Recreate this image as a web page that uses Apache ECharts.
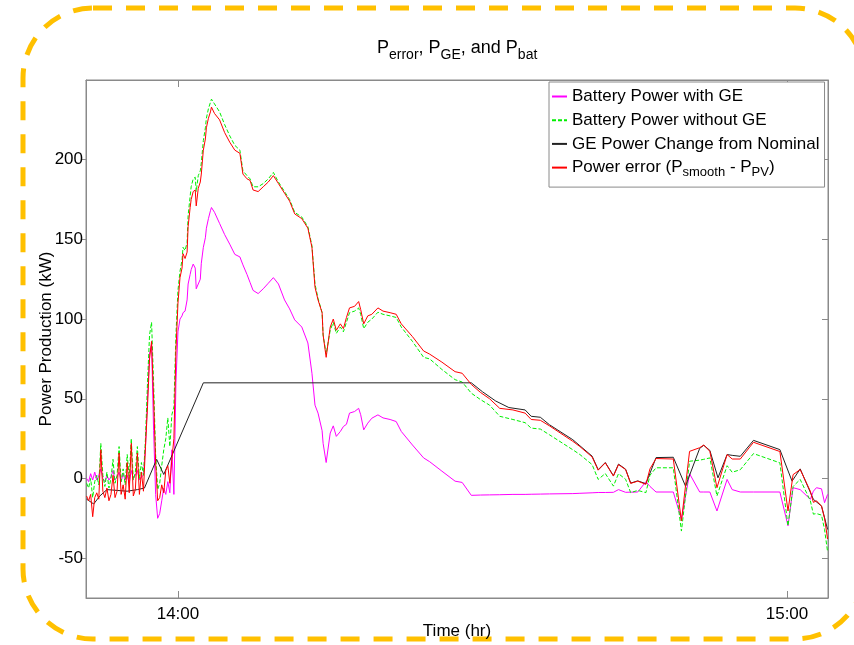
<!DOCTYPE html>
<html><head><meta charset="utf-8">
<script src="https://cdn.jsdelivr.net/npm/echarts@6/dist/echarts.min.js"></script>
<style>html,body{margin:0;padding:0;background:#fff}#c{width:854px;height:645px}</style>
</head><body><div id="c"></div>
<script>
// time in minutes after 13:00
const timeEarly = [51.0,51.2,51.4,51.6,51.8,52.0,52.2,52.4,52.6,52.8,
  53.0,53.2,53.4,53.6,53.8,54.0,54.2,54.4,54.6,54.8,
  55.0,55.2,55.4,55.6,55.8,56.0,56.2,56.4,56.6,56.8,
  57.0,57.2,57.4,57.6,57.8,58.0,58.2,58.4,58.6,58.8,
  59.0,59.2,59.4,59.6,59.8,60.0];
const timeLate = [60.2,60.4,60.5,60.7,60.9,61.0,61.2,61.3,61.5,61.7,
  61.8,62.0,62.2,62.3,62.5,62.7,62.8,63.0,63.2,63.3,
  63.6,64.1,64.6,65.1,65.6,66.1,66.4,66.8,67.1,67.4,
  67.9,68.4,68.9,69.4,69.9,70.5,71.0,71.5,72.2,72.8,
  73.2,73.5,73.8,74.2,74.3,74.6,75.0,75.3,75.6,76.0,
  76.3,76.6,76.9,77.4,77.8,78.0,78.3,78.7,79.1,79.7,
  80.2,80.9,81.5,82.0,83.1,84.2,84.8,86.0,87.3,88.0,
  88.9,89.8,90.7,91.7,93.0,94.2,94.8,95.7,96.6,98.9,
  99.6,100.8,101.4,102.1,102.9,103.4,104.1,104.6,105.3,106.1,
  106.5,107.1,108.8,109.6,110.4,111.4,111.8,112.4,113.1,114.1,
  114.6,115.4,116.7,119.3,120.1,120.6,121.3,122.3,122.6,122.9,
  123.4,123.7,124.0];

// Battery Power with GE (magenta)
const magentaEarly = [0,-2,3,-1,4,-1,2,6,0,-2,
  2,-1,1,5,-1,1,4,-2,3,-1,
  2,-3,5,0,2,5,-1,1,2,20,
  50,78,84,30,-10,-25,-22,-14,-6,-10,
  -2,-9,18,-10,60,92];
const magentaLate = [100,102,104,105,112,122,128,131,134.5,132,
  119,122,125,135,145,151,157,163,168,170,
  167,160,153,147,140.6,139,134,128,123,118,
  116,119,122.5,126,122,112,106.4,99.5,95,85,
  66,46,41,30,22,10,28.5,33,26.4,29.5,
  32.6,34,41,42,44,40,30.5,34.7,37.8,39.9,
  38,37,35.7,29.5,21,12.9,10.5,4.6,-1.7,-2.5,
  -10.6,-10.4,-10.3,-10.2,-10,-10,-9.9,-9.8,-9.7,-9.5,
  -9.3,-9,-8.8,-8.8,-8.7,-7,-8.7,-8.6,-8.5,-2,
  -5,-8.5,-8.5,-25.6,3,-8.5,-8.5,-8.5,-20.4,-0.6,
  -7,-8.5,-8.5,-8.5,-29.7,-5.8,-7,-13.1,-8,-5.8,
  -6.5,-15.2,-10];

// Battery Power without GE (green dashed)
const greenEarly = [-3,-6,0,-12,-2,2,-4,22,2,-5,
  4,-6,0,12,-3,2,20,-2,6,-4,
  15,0,25,-1,4,20,0,10,2,25,
  60,90,98,60,15,-7,-3,8,18,25,
  38,20,40,45,90,118];
const greenLate = [130,137,145,143,148,165,177,183,188,189,
  180,190,193,198,212,220,226,232,236,238,
  235,230,222,215,209,206,193,190,188,183,
  183,185,188,192,186,180,175,167,164,158,
  146,122,113,104,90,78,93,98,91,95,
  92,98,104,105,107,103,94,98,100,104.3,
  103,102,101,95,86,76,75,68.4,62,60.5,
  53.5,49.5,46,39,37,35,31.6,31,27.4,18,
  15,8.7,-0.6,3.1,-4.8,3,-0.5,-8.9,-7.5,-8.9,
  2,6.7,6.7,-33,10.8,11.5,12,12.9,-11,8,
  3.9,5.5,15.6,9.8,-29.7,-5,-0.6,-14,-22.4,-22,
  -23,-32,-46];

// Power error (red)
const redEarly = [-11,-14,-10,-24,-12,-9,-13,18,-8,-12,
  -6,-14,-10,2,-12,-8,16,-10,-4,-13,
  10,-9,22,-11,-7,16,-10,4,-8,20,
  45,75,86,50,10,-14,-12,-4,-9,5,
  8,-3,12,25,80,110];
const redLate = [126,132,141,138,142,158,170,175,180,181,
  171,182,186,191,206,213,220,226,230,233,
  229,225,217,211,206,204,191,188,187,181,
  180,183,186,190,185,179,174,166,163,157,
  145,120,112,104,90,76,95,100,93,97,
  94,101,107,108,111,106,97,102,103,107,
  105,104,103,97,89,80,78,73,67,66,
  59,54,50,44,43,41,37,36.5,33,23.3,
  20,13.5,5.2,9.8,1.5,8.7,5.6,-3.1,-1.7,-3.7,
  6,12.5,12.2,-26.6,17,19.3,21,17,-5.8,15,
  12.2,12.2,22.7,16.9,-20.4,2.4,5.6,-8,-15,-14,
  -17.3,-25,-38];

// GE Power Change from Nominal (black)
const geTime = [51.0,51.7,52.3,53.0,54.0,55.0,56.0,56.7,57.9,58.6,
  62.5,88.9,90.0,91.3,92.6,94.2,94.8,95.7,96.6,98.9,
  99.6,100.8,101.4,102.1,102.9,103.4,104.1,104.6,105.3,106.1,
  107.1,108.8,110.0,111.4,111.8,112.4,113.2,114.1,114.6,115.4,
  116.7,119.3,120.5,121.3,122.6,123.4,124.0];
const geValues = [-13,-16,-11,-7,-7.5,-8,-7,-6,12,2.5,
  60,60,54.4,48.6,44.5,43,39,38.4,33.7,24.3,
  20.5,14,5.5,10,1.7,9,5.8,-2.9,-1.5,-3.3,
  13.1,13.3,-4.8,18.9,20.8,17.6,0.4,15,14.5,13.9,
  23.9,18.1,-1.7,6,-13.1,-17.3,-32];

const seriesNames = ['Battery Power with GE','Battery Power without GE','GE Power Change from Nominal','Power error'];
const xTickValues = [60, 120];
const xTickLabels = ['14:00', '15:00'];
const yTickValues = [-50, 0, 50, 100, 150, 200];

const FONT = '"Liberation Sans", Arial, Helvetica, sans-serif';
const time = timeEarly.concat(timeLate);
function pairs(t, v) { return t.map((x, i) => [x, v[i]]); }

const chart = echarts.init(document.getElementById('c'), null, {renderer: 'canvas'});
const axisGray = '#8a8a8a';
const xBase = {type: 'value', min: 50.94, max: 124.04, splitLine: {show: false},
  axisLine: {show: true, onZero: false, lineStyle: {color: axisGray}}};
const yBase = {type: 'value', min: -75, max: 250, splitLine: {show: false},
  axisLine: {show: true, onZero: false, lineStyle: {color: axisGray}}};

chart.setOption({
  animation: false,
  backgroundColor: '#fff',
  textStyle: {fontFamily: FONT},
  title: {
    text: '{n|P}{s|error}{n|, P}{s|GE}{n|, and P}{s|bat}',
    left: 377, top: 36, padding: 0,
    textStyle: {fontWeight: 'normal', rich: {
      n: {fontSize: 18, fontFamily: FONT, color: '#000', fontWeight: 'normal'},
      s: {fontSize: 14, fontFamily: FONT, color: '#000', fontWeight: 'normal', padding: [12, 0, -2, 0]}
    }}
  },
  grid: {left: 86, right: 26, top: 80, bottom: 47, show: true, borderColor: axisGray, borderWidth: 1,
    backgroundColor: '#fff', containLabel: false, outerBoundsMode: 'none'},
  xAxis: [
    Object.assign({}, xBase, {position: 'bottom',
      axisTick: {show: true, inside: true, length: 7, customValues: xTickValues, lineStyle: {color: axisGray}},
      axisLabel: {show: true, customValues: xTickValues, margin: 8, fontSize: 17, color: '#000', fontFamily: FONT,
        formatter: v => { const i = xTickValues.indexOf(Math.round(v)); return i >= 0 ? xTickLabels[i] : ''; }},
      name: 'Time (hr)', nameLocation: 'middle', nameGap: 25, nameMoveOverlap: false,
      nameTextStyle: {fontSize: 17, color: '#000', fontFamily: FONT}}),
    Object.assign({}, xBase, {position: 'top',
      axisTick: {show: true, inside: true, length: 7, customValues: xTickValues, lineStyle: {color: axisGray}},
      axisLabel: {show: false}})
  ],
  yAxis: [
    Object.assign({}, yBase, {position: 'left',
      axisTick: {show: true, inside: false, length: 5, customValues: yTickValues, lineStyle: {color: axisGray}},
      axisLabel: {show: true, customValues: yTickValues, margin: 3, fontSize: 17, color: '#000', fontFamily: FONT},
      name: 'Power Production (kW)', nameLocation: 'middle', nameGap: 31, nameMoveOverlap: false,
      nameTextStyle: {fontSize: 17, color: '#000', fontFamily: FONT}}),
    Object.assign({}, yBase, {position: 'right',
      axisTick: {show: true, inside: true, length: 6, customValues: yTickValues, lineStyle: {color: axisGray}},
      axisLabel: {show: false}})
  ],
  legend: {
    orient: 'vertical', left: 549, top: 82,
    data: seriesNames,
    itemWidth: 15, itemHeight: 10, itemGap: 6.7,
    padding: [6, 5, 8, 2],
    itemStyle: {opacity: 0},
    backgroundColor: '#fff', borderColor: axisGray, borderWidth: 1, borderRadius: 0,
    textStyle: {fontSize: 17, fontFamily: FONT, color: '#000',
      rich: {sub: {fontSize: 13, fontFamily: FONT, color: '#000', padding: [7, 0, -3, 0]}}},
    formatter: name => name === 'Power error' ? 'Power error (P{sub|smooth} - P{sub|PV})' : name
  },
  series: [
    {name: seriesNames[0], type: 'line', xAxisIndex: 0, yAxisIndex: 0, data: pairs(time, magentaEarly.concat(magentaLate)),
      symbol: 'none', lineStyle: {color: '#ff00ff', width: 1}, itemStyle: {color: '#ff00ff'}},
    {name: seriesNames[1], type: 'line', xAxisIndex: 0, yAxisIndex: 0, data: pairs(time, greenEarly.concat(greenLate)),
      symbol: 'none', lineStyle: {color: '#00f000', width: 1, type: [4, 2]}, itemStyle: {color: '#00f000'}},
    {name: seriesNames[2], type: 'line', xAxisIndex: 0, yAxisIndex: 0, data: pairs(geTime, geValues),
      symbol: 'none', lineStyle: {color: '#222', width: 1}, itemStyle: {color: '#222'}},
    {name: seriesNames[3], type: 'line', xAxisIndex: 0, yAxisIndex: 0, data: pairs(time, redEarly.concat(redLate)),
      symbol: 'none', lineStyle: {color: '#ff0000', width: 1}, itemStyle: {color: '#ff0000'}}
  ],
  graphic: [{
    type: 'rect', silent: true, z: -1,
    shape: {x: 23, y: 8, width: 842, height: 631, r: 70},
    style: {fill: 'none', stroke: '#FFC000', lineWidth: 5, lineDash: [19, 14]}
  }]
});
</script>
</body></html>
